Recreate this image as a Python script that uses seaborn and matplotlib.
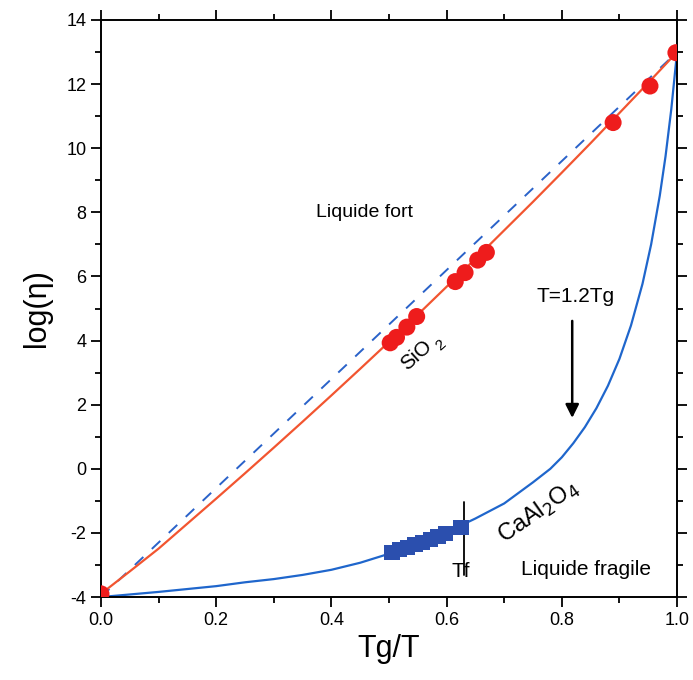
import numpy as np
import matplotlib
matplotlib.use("Agg")
import matplotlib.pyplot as plt
import seaborn as sns

# strong liquid (SiO2) - measured points and fitted curve
sio2_x = [0.0, 0.502, 0.513, 0.531, 0.548, 0.615, 0.632, 0.654, 0.669, 0.889, 0.953, 0.998]
sio2_y = [-3.9, 3.93, 4.10, 4.42, 4.75, 5.84, 6.12, 6.51, 6.75, 10.80, 11.94, 12.98]
sio2_fit_x = [0.0, 0.05, 0.1, 0.15, 0.2, 0.25, 0.3, 0.35, 0.4, 0.45, 0.5, 0.55,
              0.6, 0.65, 0.7, 0.75, 0.8, 0.85, 0.9, 0.95, 1.0]
sio2_fit_y = [-3.9, -3.2, -2.49, -1.71, -0.93, -0.14, 0.66, 1.47, 2.29, 3.12, 3.96, 4.81,
              5.68, 6.55, 7.44, 8.33, 9.24, 10.16, 11.1, 12.04, 13.0]

# fragile liquid (CaAl2O4)
caal_x = [0.505, 0.518, 0.532, 0.545, 0.558, 0.572, 0.585, 0.598, 0.625]
caal_y = [-2.60, -2.52, -2.45, -2.37, -2.29, -2.21, -2.12, -2.03, -1.82]
caal_fit_x = [0.0, 0.05, 0.1, 0.15, 0.2, 0.25, 0.3, 0.35, 0.4, 0.45, 0.5, 0.55, 0.6,
              0.65, 0.7, 0.75, 0.78, 0.8, 0.82, 0.84, 0.86, 0.88, 0.9, 0.92, 0.94,
              0.955, 0.97, 0.98, 0.99, 1.0]
caal_fit_y = [-4.0, -3.92, -3.84, -3.75, -3.66, -3.54, -3.44, -3.31, -3.15, -2.93, -2.65,
              -2.33, -1.98, -1.55, -1.08, -0.42, 0.0, 0.36, 0.80, 1.30, 1.89, 2.59, 3.43,
              4.47, 5.77, 7.0, 8.52, 9.75, 11.22, 13.0]

# ideal Arrhenius line
arr_x = [0.0, 1.0]
arr_y = [-4.0, 13.0]

sns.set_style("ticks")
plt.rcParams['font.family'] = ['Liberation Sans', 'DejaVu Sans']
plt.rcParams['axes.unicode_minus'] = False
plt.rcParams['axes.edgecolor'] = 'black'
plt.rcParams['xtick.color'] = 'black'
plt.rcParams['ytick.color'] = 'black'
plt.rcParams['axes.labelcolor'] = 'black'
plt.rcParams['text.color'] = 'black'

fig = plt.figure(figsize=(6.93, 6.80), dpi=100)
ax = fig.add_axes([0.1457, 0.122, 0.8313, 0.8486])

ax.plot(arr_x, arr_y, color='#2a62c9', lw=1.4, dashes=(6, 6))
sns.lineplot(x=sio2_fit_x, y=sio2_fit_y, color='#f25530', lw=1.6, ax=ax)
sns.lineplot(x=caal_fit_x, y=caal_fit_y, color='#1f66cc', lw=1.6, ax=ax)
sns.scatterplot(x=sio2_x, y=sio2_y, color='#ee1c1c', s=150, edgecolor='none', ax=ax, zorder=5)
sns.scatterplot(x=caal_x, y=caal_y, color='#2b4fae', marker='s', s=120, edgecolor='none', ax=ax, zorder=5)

# Tf marker line
ax.plot([0.63, 0.63], [-1.02, -3.3], color='black', lw=1.3)

ax.set_xlim(0, 1.0)
ax.set_ylim(-4, 14)
ax.set_xticks(np.arange(0, 1.01, 0.2))
ax.set_xticks(np.arange(0, 1.01, 0.1), minor=True)
ax.set_yticks(np.arange(-4, 14.1, 2))
ax.set_yticks(np.arange(-4, 14.1, 1), minor=True)
ax.xaxis.set_major_formatter(matplotlib.ticker.FormatStrFormatter('%.1f'))
ax.yaxis.set_major_formatter(matplotlib.ticker.FormatStrFormatter('%d'))
ax.tick_params(which='both', direction='out', top=True, right=True, labelsize=13, width=1.3)
ax.tick_params(which='major', length=7)
ax.tick_params(which='minor', length=4)
for s in ax.spines.values():
    s.set_visible(True)
    s.set_linewidth(1.4)

ax.set_xlabel('Tg/T', fontsize=22)
ax.set_ylabel('log(η)', fontsize=22, labelpad=10)

ax.text(0.458, 8.0, 'Liquide fort', fontsize=14, ha='center', va='center')
ax.text(0.548, 3.55, 'SiO', fontsize=15, rotation=42, ha='center', va='center')
ax.text(0.59, 3.85, '2', fontsize=11, rotation=42, ha='center', va='center')
ax.text(0.823, 5.36, 'T=1.2Tg', fontsize=15, ha='center', va='center')
ax.annotate('', xy=(0.818, 1.5), xytext=(0.818, 4.7),
            arrowprops=dict(arrowstyle='-|>', color='black', lw=1.8, mutation_scale=20))
ax.text(0.76, -1.35, r'CaAl$_2$O$_4$', fontsize=17, rotation=35, ha='center', va='center')
ax.text(0.625, -3.2, 'Tf', fontsize=15, ha='center', va='center')
ax.text(0.842, -3.15, 'Liquide fragile', fontsize=15, ha='center', va='center')

fig.savefig('out.png', dpi=100)
